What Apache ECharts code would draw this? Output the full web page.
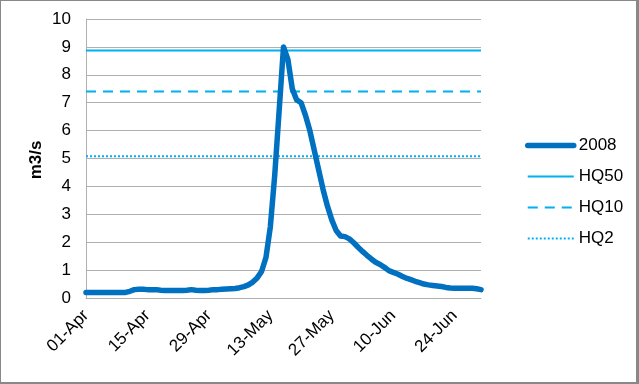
<!DOCTYPE html>
<html><head><meta charset="utf-8">
<script src="https://cdn.jsdelivr.net/npm/echarts@6/dist/echarts.min.js"></script>
<style>
html,body{margin:0;padding:0;background:#888888;width:639px;height:384px;overflow:hidden}
#c{position:absolute;left:1px;top:1px;width:635px;height:381px;background:#ffffff}
</style></head>
<body><div id="c"></div>
<script>
// Daily categories 01-Apr .. 30-Jun (2008)
const months = [['Apr', 30], ['May', 31], ['Jun', 30]];
const categories = [];
months.forEach(function (m) {
  for (let d = 1; d <= m[1]; d++) categories.push((d < 10 ? '0' : '') + d + '-' + m[0]);
});
const flow2008 = [
  0.20,0.20,0.20,0.20,0.20,0.20,0.20,0.20,0.20,0.20,
  0.24,0.30,0.31,0.31,0.30,0.30,0.30,0.28,0.27,0.27,
  0.27,0.27,0.27,0.28,0.30,0.28,0.27,0.27,0.28,0.30,
  0.30,0.31,0.32,0.33,0.34,0.37,0.41,0.47,0.57,0.72,
  0.95,1.45,2.55,4.40,6.70,9.00,8.55,7.50,7.10,7.00,
  6.55,6.00,5.30,4.60,3.90,3.30,2.80,2.42,2.22,2.20,
  2.12,1.98,1.82,1.67,1.53,1.40,1.28,1.20,1.10,0.98,
  0.92,0.86,0.78,0.71,0.66,0.60,0.55,0.50,0.47,0.45,
  0.43,0.41,0.38,0.36,0.35,0.35,0.35,0.35,0.35,0.33,
  0.30
];
const hq50 = 8.87, hq10 = 7.40, hq2 = 5.08;
const seriesNames = ['2008', 'HQ50', 'HQ10', 'HQ2'];
const yTicks = [0, 10, 1];
const yAxisTitle = 'm3/s';

const chart = echarts.init(document.getElementById('c'), null, {renderer: 'canvas'});
const font = '"Liberation Sans", Arial, sans-serif';
chart.setOption({
  animation: false,
  textStyle: {fontFamily: font},
  grid: {left: 85, top: 18, width: 395, height: 279, containLabel: false},
  graphic: [{
    type: 'text', x: 35, y: 159, rotation: Math.PI / 2,
    style: {text: yAxisTitle, font: 'bold 17px ' + font, fill: '#000', align: 'center', verticalAlign: 'middle'}
  }],
  legend: {
    orient: 'vertical', left: 519, top: 131,
    itemWidth: 46, itemHeight: 14, itemGap: 14,
    itemStyle: {opacity: 0},
    textStyle: {fontSize: 17, color: '#000', fontFamily: font},
    data: [
      {name: seriesNames[0], lineStyle: {width: 5.5, cap: 'round'}},
      {name: seriesNames[1]},
      {name: seriesNames[2]},
      {name: seriesNames[3]}
    ]
  },
  xAxis: {
    type: 'category', data: categories, boundaryGap: false,
    axisLine: {lineStyle: {color: '#b0b0b0'}},
    axisTick: {show: false},
    axisLabel: {interval: 13, rotate: 45, fontSize: 17, color: '#000', margin: 15, fontFamily: font},
    splitLine: {show: false}
  },
  yAxis: {
    type: 'value', min: yTicks[0], max: yTicks[1], interval: yTicks[2],
    axisLine: {show: true, lineStyle: {color: '#b0b0b0'}},
    axisTick: {show: false},
    axisLabel: {fontSize: 17, color: '#000', margin: 15, fontFamily: font},
    splitLine: {lineStyle: {color: '#b0b0b0', width: 1}}
  },
  series: [
    {name: seriesNames[0], type: 'line', data: flow2008, symbol: 'none', z: 5,
     lineStyle: {color: '#0070C0', width: 5.5, cap: 'round', join: 'round'}, itemStyle: {color: '#0070C0'}},
    {name: seriesNames[1], type: 'line', data: categories.map(function () { return hq50; }), symbol: 'none',
     lineStyle: {color: '#00B0F0', width: 2}, itemStyle: {color: '#00B0F0'}},
    {name: seriesNames[2], type: 'line', data: categories.map(function () { return hq10; }), symbol: 'none',
     lineStyle: {color: '#00B0F0', width: 2, type: [10, 7]}, itemStyle: {color: '#00B0F0'}},
    {name: seriesNames[3], type: 'line', data: categories.map(function () { return hq2; }), symbol: 'none',
     lineStyle: {color: '#00B0F0', width: 2, type: [2, 2]}, itemStyle: {color: '#00B0F0'}}
  ]
});
</script></body></html>
